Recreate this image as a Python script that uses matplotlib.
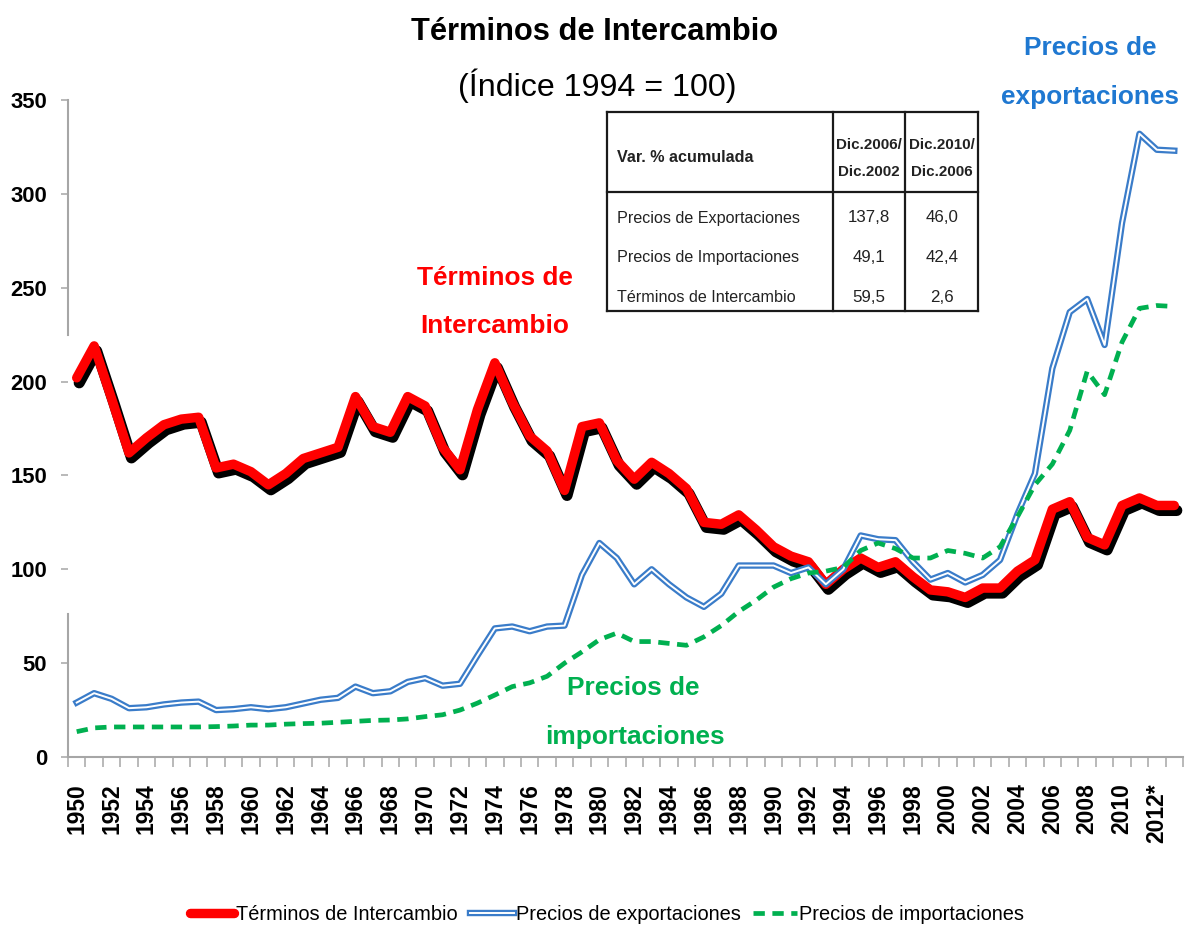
import numpy as np
import matplotlib
matplotlib.use("Agg")
import matplotlib.pyplot as plt
import matplotlib.patheffects as pe
import matplotlib.font_manager as fm
from matplotlib.lines import Line2D

# data
years = np.arange(1950, 2014)
year_labels = [str(y) if y != 2012 else "2012*" for y in years[::2]]

terminos = [202, 219, 191, 162, 170, 177, 180, 181, 154, 156,
            152, 145, 151, 159, 162, 165, 192, 176, 173, 192,
            187, 165, 153, 185, 210, 189, 171, 163, 142, 176,
            178, 158, 148, 157, 151, 143, 125, 124, 129, 121,
            112, 107, 104, 92, 100, 106, 101, 104, 96, 89,
            88, 85, 90, 90, 99, 105, 132, 136, 117, 113,
            134, 138, 134, 134]
exportaciones = [29, 34, 31, 26, 26.5, 28, 29, 29.5, 25, 25.5,
                 26.5, 25.5, 26.5, 28.5, 30.5, 31.5, 37.5, 34, 35, 40,
                 42, 38, 39, 54, 68.5, 69.5, 67, 69.5, 70, 97,
                 114, 106, 92, 100, 92, 85, 80, 87, 102, 102,
                 102, 98, 101, 92, 100, 118, 116, 115.5, 104, 94.5,
                 98, 93, 97, 105, 129.5, 151, 207, 237, 244, 219.5,
                 284.5, 332, 323.5, 323]
importaciones = [13.5, 15.5, 16, 16, 16, 16, 16, 16, 16.2, 16.5,
                 17, 17, 17.5, 17.8, 18, 18.5, 19, 19.5, 19.7, 20.3,
                 21.5, 22.5, 25, 28.7, 33, 37.5, 39.5, 43, 50, 56,
                 62.5, 66, 61.5, 61.5, 60.5, 59.5, 64, 70, 77.5, 83.5,
                 90.5, 95, 98, 99, 101, 110, 114, 111, 106, 106,
                 110, 108.5, 106, 112, 128, 145, 156, 174, 205.5, 193,
                 221, 239, 240.5, 240]

tabla_filas = ["Precios de Exportaciones", "Precios de Importaciones", "Términos de Intercambio"]
tabla_cols = ["Dic.2006/\nDic.2002", "Dic.2010/\nDic.2006"]
tabla_vals = [["137,8", "46,0"], ["49,1", "42,4"], ["59,5", "2,6"]]

RED = "#FF0000"
BLUE = "#3A7CC9"
BLUE_TXT = "#1F78D1"
GREEN = "#00B050"
GRAY = "#A6A6A6"

names = {f.name for f in fm.fontManager.ttflist}
if "Liberation Sans Narrow" in names:
    NARROW, k = "Liberation Sans Narrow", 1.0
else:
    NARROW, k = "Liberation Sans", 0.84
plt.rcParams["font.family"] = [NARROW, "DejaVu Sans"]

W, H = 1190, 932
fig = plt.figure(figsize=(W / 100, H / 100), dpi=100)


def px(x, y):
    return x / W, 1 - y / H


ax = fig.add_axes([68 / W, 1 - 757 / H, 1115 / W, 657 / H])
x = np.arange(len(years))

# Terminos de intercambio: thick red with black drop shadow
ax.plot(x, terminos, color=RED, lw=6.8, solid_capstyle="round", solid_joinstyle="round", zorder=2,
        path_effects=[pe.Stroke(offset=(1.8, -3.6), linewidth=8, foreground="black"), pe.Normal()])
# Precios de exportaciones: double blue line
ax.plot(x, exportaciones, color="white", lw=1.4, zorder=3,
        path_effects=[pe.Stroke(linewidth=4.6, foreground=BLUE), pe.Normal()])
# Precios de importaciones: green dashes
ax.plot(x, importaciones, color=GREEN, lw=3.4, dashes=(2.4, 1.6), zorder=4)

ax.set_xlim(-0.5, len(years) - 0.5)
ax.set_ylim(0, 350)
ax.set_yticks(range(0, 351, 50))
ax.set_xticks(x[::2])
ax.set_xticklabels(year_labels, rotation=90, fontweight="bold", fontsize=16.5,
                   family=["Liberation Sans", "DejaVu Sans"])
ax.set_xticks(np.arange(-0.5, len(years), 1), minor=True)
ax.tick_params(axis="x", which="major", length=0, pad=19)
ax.tick_params(axis="x", which="minor", length=7, width=1.1, color=GRAY)
ax.tick_params(axis="y", length=5, width=1.1, color=GRAY, pad=10, labelsize=19 * k)
for lab in ax.get_yticklabels():
    lab.set_fontweight("bold")

for s in ["top", "right"]:
    ax.spines[s].set_visible(False)
for s in ["left", "bottom"]:
    ax.spines[s].set_color(GRAY)
    ax.spines[s].set_linewidth(1.5)
ax.spines["left"].set_bounds(225, 350)
ax.axvline(-0.5, 0, 76 / 350, color=GRAY, lw=1.5, clip_on=False)

# titles
fig.text(*px(595, 32), "Términos de Intercambio", ha="center", va="center",
         fontsize=26.5 * k, fontweight="bold")
fig.text(*px(597, 86), "(Índice 1994 = 100)", ha="center", va="center", fontsize=27.5 * k)

# series annotations
for (cx, cy), txt, col in [((495, 278), "Términos de", RED), ((495, 326), "Intercambio", RED),
                           ((1090, 48), "Precios de", BLUE_TXT), ((1090, 97), "exportaciones", BLUE_TXT),
                           ((633, 688), "Precios de", GREEN), ((635, 737), "importaciones", GREEN)]:
    fig.text(*px(cx, cy), txt, ha="center", va="center", color=col,
             fontsize=22.5 * k, fontweight="bold")

# table
tl, tr, tt, tb = 607, 978, 112, 311
c1, c2, hsep = 833, 905, 192
lw_t = 1.6
for (x0, y0), (x1, y1) in [((tl, tt), (tr, tt)), ((tl, hsep), (tr, hsep)), ((tl, tb), (tr, tb)),
                           ((tl, tt), (tl, tb)), ((c1, tt), (c1, tb)), ((c2, tt), (c2, tb)),
                           ((tr, tt), (tr, tb))]:
    fig.add_artist(Line2D([x0 / W, x1 / W], [1 - y0 / H, 1 - y1 / H], color="#1a1a1a", lw=lw_t))
fig.text(*px(617, 158), "Var. % acumulada", ha="left", va="center", fontsize=13.8 * k,
         fontweight="bold", color="#222222")
for cx, col in zip([869, 942], tabla_cols):
    top, bot = col.split("\n")
    fig.text(*px(cx, 145), top, ha="center", va="center", fontsize=13 * k, fontweight="bold",
             color="#222222")
    fig.text(*px(cx, 172), bot, ha="center", va="center", fontsize=13 * k, fontweight="bold",
             color="#222222")
for ry, fila, vals in zip([218, 258, 297], tabla_filas, tabla_vals):
    fig.text(*px(617, ry), fila, ha="left", va="center", fontsize=13.8 * k, color="#222222")
    for cx, v in zip([869, 942], vals):
        fig.text(*px(cx, ry), v, ha="center", va="center", fontsize=14.5 * k, color="#222222")

# legend
handles = [Line2D([], [], color=RED, lw=6.8, solid_capstyle="round"),
           Line2D([], [], color="white", lw=1.4,
                  path_effects=[pe.Stroke(linewidth=4.6, foreground=BLUE), pe.Normal()]),
           Line2D([], [], color=GREEN, lw=3.4, dashes=(2.4, 1.6))]
fig.legend(handles, ["Términos de Intercambio", "Precios de exportaciones", "Precios de importaciones"],
           loc="center", bbox_to_anchor=px(607, 915), ncol=3, frameon=False,
           fontsize=17.2 * k, handlelength=2.2, handletextpad=0.1, columnspacing=0.6)

fig.savefig("out.png", dpi=100)
